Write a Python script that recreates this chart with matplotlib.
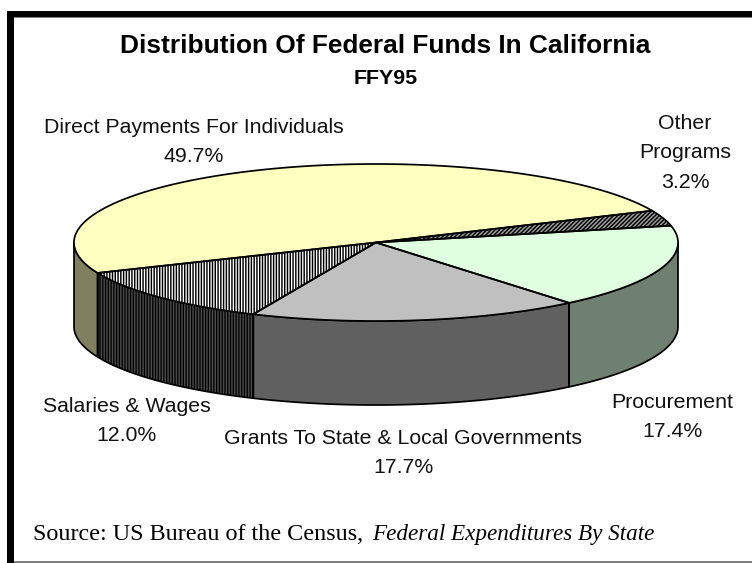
import numpy as np
import matplotlib
matplotlib.use("Agg")
import matplotlib.pyplot as plt
from matplotlib.patches import Polygon, Rectangle

W, H = 752, 563
categories = ["Direct Payments For Individuals", "Salaries & Wages",
              "Grants To State & Local Governments", "Procurement", "Other\nPrograms"]
values = [49.7, 12.0, 17.7, 17.4, 3.2]
top_colors = ["#FFFFC0", "#FFFFFF", "#C0C0C0", "#E0FFE0", "#A0A0A0"]
side_colors = ["#808060", "#000000", "#606060", "#708070", "#505050"]
top_hatch = [None, "||||||", None, None, "////////"]
side_hatch = [None, "||||||", None, None, None]
hatch_colors = ["none", "#000000", "none", "none", "#000000"]
side_hatch_colors = ["none", "#4A4A4A", "none", "none", "none"]

cx, cy, rx, ry, depth = 376, 242.5, 302, 78.5, 84
start_angle = 23.9
lw = 1.25
plt.rcParams["hatch.linewidth"] = 1.05

fig = plt.figure(figsize=(W / 100, H / 100), dpi=100)
ax = fig.add_axes([0, 0, 1, 1])
ax.set_xlim(0, W)
ax.set_ylim(H, 0)
ax.axis("off")

# frame
ax.add_patch(Rectangle((14, 17), 738, 1, fc="#808080", ec="none", zorder=1))
ax.add_patch(Rectangle((7, 11), 745, 6, fc="black", ec="none", zorder=1))
ax.add_patch(Rectangle((7, 11), 7, 552, fc="black", ec="none", zorder=1))
ax.add_patch(Rectangle((14, 561), 738, 1.5, fc="#808080", ec="none", zorder=1))

edges = start_angle + np.concatenate([[0], np.cumsum(values)]) * 3.6


def ell(theta, dz=0.0):
    t = np.radians(theta)
    return np.column_stack([cx + rx * np.cos(t), cy - ry * np.sin(t) + dz])


def draw(pts, fc, hatch=None, hc="none", z=2):
    if hatch:
        ax.add_patch(Polygon(pts, closed=True, fc=fc, ec=hc, lw=0, hatch=hatch, zorder=z))
    else:
        ax.add_patch(Polygon(pts, closed=True, fc=fc, ec="none", zorder=z))
    ax.add_patch(Polygon(pts, closed=True, fc="none", ec="black", lw=lw, zorder=z + 0.5,
                         joinstyle="round"))


# sides: only the visible front part of the rim (angles 180-360)
for i in range(len(values)):
    a0, a1 = edges[i], edges[i + 1]
    for lo, hi in [(180, 360), (540, 720)]:
        s, e = max(a0, lo), min(a1, hi)
        if e > s:
            th = np.linspace(s, e, 80)
            pts = np.vstack([ell(th), ell(th[::-1], depth)])
            draw(pts, side_colors[i], side_hatch[i], side_hatch_colors[i])

# tops
for i in range(len(values)):
    th = np.linspace(edges[i], edges[i + 1], 200)
    pts = np.vstack([[[cx, cy]], ell(th)])
    draw(pts, top_colors[i], top_hatch[i], hatch_colors[i], z=4)

sans = "Liberation Sans"
label_pos = [(193.5, 142), (127, 421), (403.5, 453), (672, 417), (685, 153)]
for name, v, (x, y) in zip(categories, values, label_pos):
    ax.text(x, y, f"{name}\n{v:.1f}%", ha="center", va="center", family=sans,
            fontsize=15.3, color="#111111", linespacing=1.72, zorder=6)

ax.text(385.5, 46, "Distribution Of Federal Funds In California", ha="center", va="center",
        family=sans, fontsize=18.9, fontweight="bold", zorder=6)
ax.text(386, 79, "FFY95", ha="center", va="center", family=sans, fontsize=15.4,
        fontweight="bold", zorder=6)

ser = "Liberation Serif"
ax.text(33, 540, "Source: US Bureau of the Census,", ha="left", va="baseline", family=ser,
        fontsize=17.4, zorder=6)
ax.text(372, 540, "Federal Expenditures By State", ha="left", va="baseline", family=ser,
        style="italic", fontsize=16.7, zorder=6)

fig.savefig("out.png", dpi=100, facecolor="white")
